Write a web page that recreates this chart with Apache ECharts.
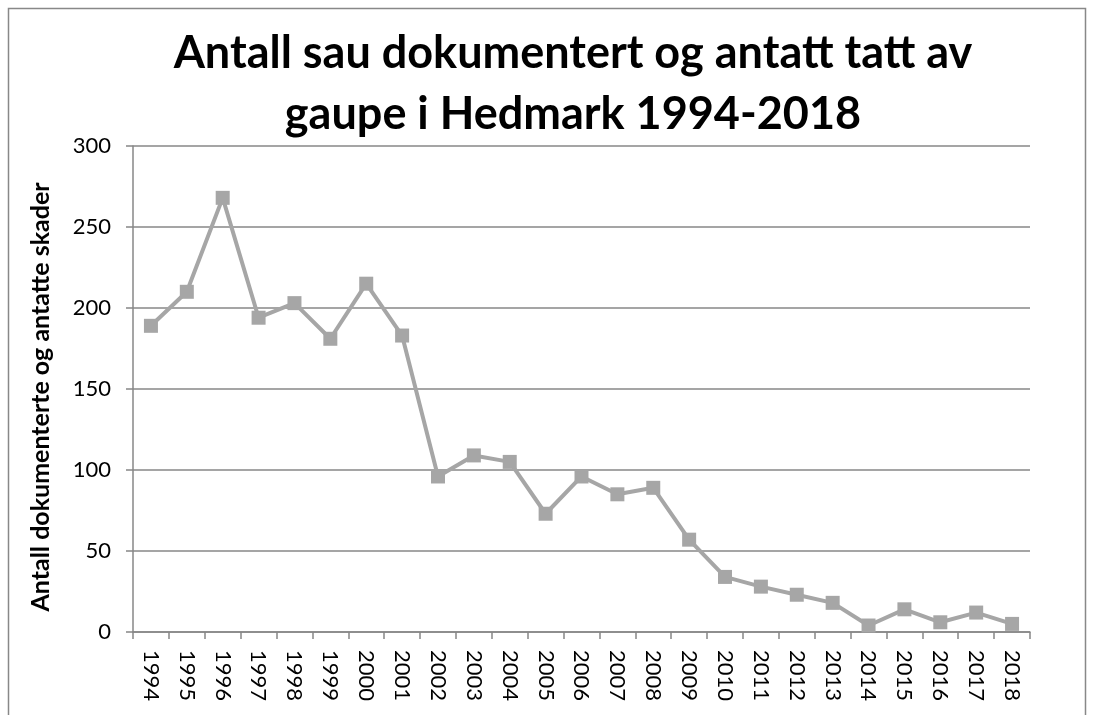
<!DOCTYPE html>
<html><head><meta charset="utf-8">
<script src="https://cdn.jsdelivr.net/npm/echarts@6/dist/echarts.min.js"></script>
<style>html,body{margin:0;padding:0;background:#fff}#c{width:1094px;height:715px}</style>
</head><body><div id="c"></div>
<script>
const titleText = 'Antall sau dokumentert og antatt tatt av\ngaupe i Hedmark 1994-2018';
const yAxisName = 'Antall dokumenterte og antatte skader';
const years = ['1994','1995','1996','1997','1998','1999','2000','2001','2002','2003','2004','2005','2006','2007','2008','2009','2010','2011','2012','2013','2014','2015','2016','2017','2018'];
const values = [189,210,268,194,203,181,215,183,96,109,105,73,96,85,89,57,34,28,23,18,4,14,6,12,5];
const yTicks = [0,50,100,150,200,250,300];

const chart = echarts.init(document.getElementById('c'));
chart.setOption({
  animation:false,
  backgroundColor:'#fff',
  title:{text:titleText,left:568,top:18,textAlign:'center',
    textStyle:{fontFamily:'Lato',fontWeight:'bold',fontSize:45,lineHeight:61,color:'#000'}},
  graphic:[{type:'rect',shape:{x:8.5,y:8.5,width:1077,height:720},style:{fill:'none',stroke:'#888',lineWidth:1.5}}],
  grid:{left:133,right:64,top:146,bottom:83},
  xAxis:{type:'category',data:years,boundaryGap:true,
    axisLine:{lineStyle:{color:'#878787',width:1.5}},
    axisTick:{show:true,length:7,alignWithLabel:false,lineStyle:{color:'#878787',width:1.5}},
    axisLabel:{rotate:-90,interval:0,fontFamily:'Lato',fontSize:22,color:'#000',margin:18}},
  yAxis:{type:'value',min:0,max:300,interval:50,
    name:yAxisName,nameLocation:'middle',nameGap:80,
    nameTextStyle:{fontFamily:'Lato',fontWeight:'bold',fontSize:25,color:'#000',padding:[0,16,0,0]},
    axisLine:{show:true,lineStyle:{color:'#878787',width:1.5}},
    axisTick:{show:true,length:7,lineStyle:{color:'#878787',width:1.5}},
    splitLine:{lineStyle:{color:'#878787',width:1.5}},
    axisLabel:{fontFamily:'Lato',fontSize:22,color:'#000',margin:22,
      formatter:v=>yTicks.includes(v)?String(v):''}},
  series:[{type:'line',data:values,symbol:'rect',symbolSize:14,
    lineStyle:{color:'#A6A6A6',width:4},itemStyle:{color:'#A6A6A6'}}]
});
</script></body></html>
